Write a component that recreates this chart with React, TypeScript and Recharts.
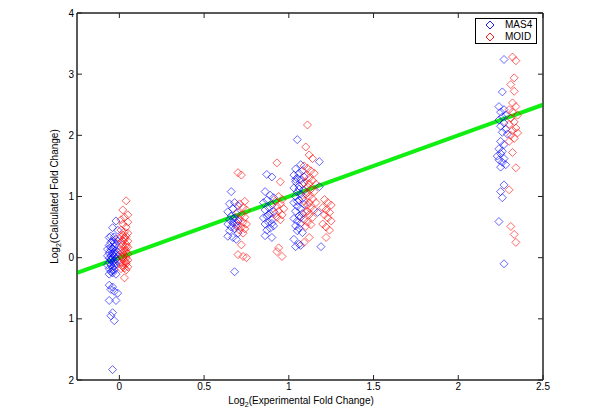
import React from 'react';
import { ScatterChart, Scatter, XAxis, YAxis, ReferenceLine, ReferenceArea, Legend } from 'recharts';

type Pt = [number, number];

// MAS4 values, grouped by experimental fold change cluster
const mas4Zero: Pt[] = [
  [-0.05, 0.35], [-0.03, 0.34], [-0.06, 0.33], [-0.02, 0.3], [-0.04, 0.28], [-0.05, 0.25],
  [-0.02, 0.22], [-0.06, 0.2], [-0.03, 0.18], [-0.04, 0.15], [-0.05, 0.13], [-0.02, 0.12],
  [-0.03, 0.1], [-0.06, 0.08], [-0.04, 0.06], [-0.02, 0.05], [-0.05, 0.03], [-0.03, 0.02],
  [-0.04, 0.0], [-0.06, -0.01], [-0.02, -0.02], [-0.05, -0.04], [-0.03, -0.05], [-0.04, -0.07],
  [-0.06, -0.08], [-0.02, -0.1], [-0.05, -0.12], [-0.03, -0.14], [-0.04, -0.16], [-0.06, -0.18],
  [-0.03, -0.2], [-0.05, -0.23], [-0.04, -0.25], [-0.02, -0.27], [-0.06, -0.27],
  [-0.01, 0.27], [-0.07, 0.14], [-0.01, 0.09], [-0.07, 0.03], [-0.01, -0.05], [-0.07, -0.12],
  [-0.03, 0.24], [-0.05, 0.17], [-0.03, 0.07], [-0.05, -0.02], [-0.03, -0.09], [-0.04, -0.21],
  [-0.04, 0.49], [-0.02, 0.6], [-0.01, 0.45],
  [-0.06, -0.45], [-0.04, -0.48], [-0.05, -0.52], [-0.03, -0.55], [-0.01, -0.58],
  [-0.06, -0.7], [-0.02, -0.7], [-0.04, -0.9], [-0.05, -0.95], [-0.03, -1.03], [-0.04, -1.83],
];
const mas4Seven: Pt[] = [
  [0.66, 1.08], [0.68, 0.9], [0.65, 0.88], [0.7, 0.85], [0.67, 0.8], [0.64, 0.75], [0.69, 0.72],
  [0.66, 0.68], [0.68, 0.65], [0.65, 0.62], [0.7, 0.6], [0.67, 0.57], [0.64, 0.55], [0.69, 0.52],
  [0.66, 0.5], [0.68, 0.47], [0.65, 0.44], [0.7, 0.4], [0.64, 0.35], [0.67, 0.33], [0.69, 0.3],
  [0.67, 0.63], [0.69, 0.58], [0.68, -0.23],
];
const mas4Nine: Pt[] = [
  [0.87, 1.36], [0.9, 1.32], [0.86, 1.08], [0.89, 1.02], [0.91, 0.98], [0.87, 0.94], [0.85, 0.9],
  [0.9, 0.86], [0.88, 0.82], [0.86, 0.78], [0.91, 0.75], [0.89, 0.72], [0.87, 0.68], [0.85, 0.65],
  [0.9, 0.62], [0.88, 0.58], [0.86, 0.55], [0.91, 0.52], [0.89, 0.48], [0.87, 0.45], [0.9, 0.33],
  [0.86, 0.36], [0.88, 0.7], [0.9, 0.56],
];
const mas4One: Pt[] = [
  [1.05, 1.93], [1.07, 1.52], [1.04, 1.45], [1.08, 1.42], [1.06, 1.38], [1.03, 1.35], [1.09, 1.32],
  [1.05, 1.3], [1.07, 1.27], [1.04, 1.24], [1.08, 1.2], [1.06, 1.17], [1.03, 1.14], [1.09, 1.1],
  [1.05, 1.07], [1.07, 1.04], [1.04, 1.0], [1.08, 0.97], [1.06, 0.94], [1.03, 0.9], [1.09, 0.87],
  [1.05, 0.84], [1.07, 0.8], [1.04, 0.76], [1.08, 0.72], [1.06, 0.68], [1.03, 0.64], [1.05, 0.6],
  [1.07, 0.56], [1.04, 0.52], [1.06, 0.48], [1.05, 0.44], [1.08, 0.41], [1.03, 0.3], [1.06, 0.22],
  [1.04, 0.18], [1.07, 0.2], [1.06, 1.12], [1.05, 0.92], [1.07, 0.66], [1.04, 1.28],
  [1.18, 1.57], [1.18, 1.16], [1.17, 0.74], [1.19, 0.18],
];
const mas4Two: Pt[] = [
  [2.27, 3.24], [2.26, 2.71], [2.24, 2.47], [2.27, 2.42], [2.25, 2.38], [2.28, 2.33], [2.26, 2.3],
  [2.24, 2.25], [2.27, 2.2], [2.25, 2.15], [2.28, 2.1], [2.26, 2.05], [2.29, 2.02], [2.25, 1.9],
  [2.27, 1.85], [2.24, 1.78], [2.26, 1.74], [2.25, 1.7], [2.23, 1.66], [2.27, 1.62], [2.24, 1.6],
  [2.26, 1.56], [2.28, 1.52], [2.25, 1.48], [2.27, 1.19], [2.25, 1.08], [2.26, 0.98], [2.24, 0.59],
  [2.27, -0.1],
];

// MOID values
const moidZero: Pt[] = [
  [0.04, 0.93], [0.02, 0.78], [0.05, 0.7], [0.03, 0.66], [0.01, 0.62], [0.05, 0.58], [0.02, 0.55],
  [0.04, 0.5], [0.01, 0.45], [0.03, 0.42], [0.05, 0.4], [0.02, 0.37], [0.04, 0.35], [0.0, 0.32],
  [0.03, 0.3], [0.05, 0.27], [0.01, 0.25], [0.04, 0.22], [0.02, 0.2], [0.05, 0.17], [0.03, 0.15],
  [0.01, 0.12], [0.04, 0.1], [0.02, 0.08], [0.05, 0.06], [0.03, 0.04], [0.01, 0.02], [0.04, 0.0],
  [0.02, -0.02], [0.05, -0.04], [0.03, -0.06], [0.01, -0.08], [0.04, -0.1], [0.02, -0.12],
  [0.05, -0.15], [0.03, -0.17], [0.01, -0.18], [0.04, -0.2], [0.03, -0.33],
  [0.03, 0.33], [0.02, 0.28], [0.04, 0.18], [0.03, 0.11], [0.02, 0.01], [0.04, -0.07], [0.02, -0.15],
];
const moidSeven: Pt[] = [
  [0.7, 1.39], [0.72, 1.35], [0.74, 0.92], [0.71, 0.88], [0.73, 0.82], [0.75, 0.78], [0.7, 0.74],
  [0.72, 0.7], [0.74, 0.66], [0.71, 0.62], [0.73, 0.58], [0.75, 0.55], [0.7, 0.52], [0.72, 0.5],
  [0.74, 0.47], [0.71, 0.45], [0.73, 0.4], [0.72, 0.21], [0.7, 0.05], [0.73, 0.02], [0.75, 0.0],
];
const moidNine: Pt[] = [
  [0.93, 1.55], [0.95, 1.24], [0.94, 1.0], [0.96, 0.95], [0.92, 0.92], [0.95, 0.88], [0.93, 0.84],
  [0.97, 0.8], [0.94, 0.76], [0.92, 0.72], [0.96, 0.7], [0.93, 0.66], [0.95, 0.62], [0.94, 0.16],
  [0.96, 0.02], [0.93, 0.1],
];
const moidOne: Pt[] = [
  [1.11, 2.17], [1.1, 1.81], [1.12, 1.68], [1.14, 1.62], [1.09, 1.5], [1.11, 1.46], [1.13, 1.42],
  [1.15, 1.38], [1.1, 1.34], [1.12, 1.3], [1.14, 1.26], [1.09, 1.22], [1.16, 1.2], [1.11, 1.16],
  [1.13, 1.12], [1.15, 1.08], [1.1, 1.04], [1.12, 1.0], [1.14, 0.96], [1.09, 0.92], [1.16, 0.9],
  [1.11, 0.86], [1.13, 0.82], [1.15, 0.78], [1.1, 0.74], [1.12, 0.7], [1.14, 0.66], [1.09, 0.62],
  [1.11, 0.58], [1.13, 0.54], [1.1, 0.51], [1.12, 0.33], [1.09, 0.25],
  [1.12, 1.21], [1.11, 1.06], [1.12, 0.9], [1.11, 0.76],
  [1.21, 0.95], [1.23, 0.9], [1.25, 0.86], [1.2, 0.82], [1.22, 0.78], [1.24, 0.74], [1.21, 0.7],
  [1.23, 0.65], [1.25, 0.6], [1.2, 0.55], [1.22, 0.5], [1.24, 0.45], [1.22, 0.33],
];
const moidTwo: Pt[] = [
  [2.32, 3.28], [2.34, 3.22], [2.33, 2.94], [2.31, 2.83], [2.33, 2.72], [2.32, 2.53], [2.34, 2.47],
  [2.3, 2.42], [2.32, 2.38], [2.35, 2.33], [2.31, 2.28], [2.33, 2.22], [2.3, 2.18], [2.34, 2.12],
  [2.32, 2.08], [2.35, 2.04], [2.31, 2.0], [2.33, 1.95], [2.3, 1.9], [2.32, 1.72], [2.34, 1.47],
  [2.3, 1.11], [2.31, 0.51], [2.33, 0.38], [2.34, 0.25],
];

const fitLine: Pt[] = [[-0.25, -0.25], [2.5, 2.5]];
const xDomain: [number, number] = [-0.25, 2.5];
const yDomain: [number, number] = [-2, 4];
const xTicks = [0, 0.5, 1, 1.5, 2, 2.5];
const yTicks = [-2, -1, 0, 1, 2, 3, 4];

const toPoints = (arr: Pt[]) => arr.map(([x, y]) => ({ x, y }));
const mas4 = toPoints([...mas4Zero, ...mas4Seven, ...mas4Nine, ...mas4One, ...mas4Two]);
const moid = toPoints([...moidZero, ...moidSeven, ...moidNine, ...moidOne, ...moidTwo]);

const BLUE = '#0000ff';
const RED = '#ff0000';
const AXIS = '#222';

const Diamond = ({ cx, cy, color, opacity = 0.6 }: any) => {
  if (cx == null || cy == null) return null;
  const r = 4;
  return (
    <path
      d={`M${cx},${cy - r}L${cx + r},${cy}L${cx},${cy + r}L${cx - r},${cy}Z`}
      fill="none"
      stroke={color}
      strokeOpacity={opacity}
      strokeWidth={1}
    />
  );
};

const NoTick = () => <g />;

const XLabel = ({ viewBox }: any) => {
  const { x, y, width } = viewBox;
  return (
    <text x={x + width / 2 - 9} y={y + 24} textAnchor="middle" fontSize={10} fill="#000">
      <tspan>Log</tspan>
      <tspan fontSize={7} dy={3}>2</tspan>
      <tspan dy={-3}>(Experimental Fold Change)</tspan>
    </text>
  );
};

const YLabel = ({ viewBox }: any) => {
  const { x, y, height } = viewBox;
  const cx = x + 58;
  const cy = y + height / 2;
  return (
    <text x={cx} y={cy} textAnchor="middle" fontSize={10} fill="#000" transform={`rotate(-90, ${cx}, ${cy})`}>
      <tspan>Log</tspan>
      <tspan fontSize={7} dy={3}>2</tspan>
      <tspan dy={-3}>(Calculated Fold Change)</tspan>
    </text>
  );
};

const LegendBox = () => (
  <div style={{ width: 60, height: 24, border: '1px solid #000', background: '#fff', fontSize: 10 }}>
    {[
      { name: 'MAS4', color: BLUE },
      { name: 'MOID', color: RED },
    ].map((item) => (
      <div key={item.name} style={{ display: 'flex', alignItems: 'center', height: 12 }}>
        <svg width={29} height={12}>
          <Diamond cx={14} cy={6} color={item.color} opacity={0.9} />
        </svg>
        <span style={{ color: '#000', lineHeight: '12px' }}>{item.name}</span>
      </div>
    ))}
  </div>
);

export default function App() {
  return (
    <div style={{ position: 'absolute', left: 0, top: 0, width: 600, height: 414, background: '#fff', fontFamily: '"Liberation Sans", Arial, sans-serif' }}>
      <ScatterChart width={600} height={414} margin={{ top: 12, right: 56, bottom: 0, left: 0 }}>
        <XAxis
          type="number"
          dataKey="x"
          domain={xDomain}
          ticks={xTicks}
          allowDataOverflow
          height={34}
          stroke={AXIS}
          tickSize={-5}
          tickMargin={8}
          tick={{ fill: '#000', fontSize: 10 }}
          label={<XLabel />}
        />
        <XAxis xAxisId="top" type="number" dataKey="x" orientation="top" domain={xDomain} ticks={xTicks} allowDataOverflow height={1} stroke={AXIS} tickSize={-5} tick={NoTick} />
        <YAxis
          type="number"
          dataKey="y"
          domain={yDomain}
          ticks={yTicks}
          allowDataOverflow
          width={77}
          stroke={AXIS}
          tickSize={-5}
          tickMargin={8}
          tick={{ fill: '#000', fontSize: 10 }}
          tickFormatter={(v: number) => String(Math.abs(v))}
          label={<YLabel />}
        />
        <YAxis yAxisId="right" type="number" dataKey="y" orientation="right" domain={yDomain} ticks={yTicks} allowDataOverflow width={1} stroke={AXIS} tickSize={-5} tick={NoTick} />
        <ReferenceArea x1={xDomain[0]} x2={xDomain[1]} y1={yDomain[0]} y2={yDomain[1]} fill="none" stroke={AXIS} strokeOpacity={1} />
        <Scatter name="MAS4" data={mas4} isAnimationActive={false} shape={(p: any) => <Diamond {...p} color={BLUE} />} />
        <Scatter name="MOID" data={moid} isAnimationActive={false} shape={(p: any) => <Diamond {...p} color={RED} />} />
        <Scatter data={mas4.slice(0, 1)} xAxisId="top" yAxisId="right" isAnimationActive={false} legendType="none" shape={NoTick} />
        <ReferenceLine
          segment={fitLine.map(([x, y]) => ({ x, y }))}
          stroke="#11ee11"
          strokeWidth={4}
          ifOverflow="hidden"
        />
        <Legend
          layout="vertical"
          align="center"
          verticalAlign="middle"
          content={<LegendBox />}
          wrapperStyle={{ left: 475, top: 18, width: 62, height: 26 }}
        />
      </ScatterChart>
    </div>
  );
}
